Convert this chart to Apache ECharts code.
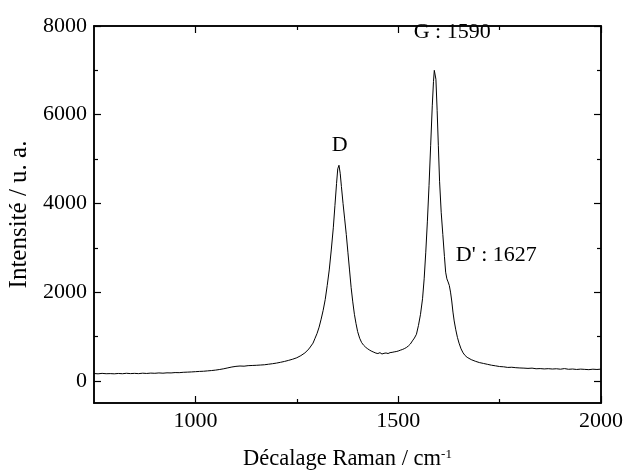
<!DOCTYPE html>
<html>
<head>
<meta charset="utf-8">
<script src="https://cdn.jsdelivr.net/npm/echarts@6/dist/echarts.min.js"></script>
<style>
html,body{margin:0;padding:0;background:#fff;}
#chart{width:628px;height:473px;}
</style>
</head>
<body>
<div id="chart"></div>
<script>
// Raman shift (cm-1) and intensity (a.u.)
var ramanShift = [750,760,770,780,790,800,810,820,830,840,850,860,870,880,890,900,910,920,930,940,950,960,970,980,990,
1000,1010,1020,1030,1040,1050,1060,1070,1080,1090,1100,1110,1120,1130,1140,1150,1160,1170,1180,1190,1200,1210,1220,1230,1240,
1250,1260,1270,1280,1290,1295,1300,1305,1310,1315,1320,1325,1330,1335,1340,1344,1348,1351,1354,1357,1360,1364,1368,1372,1376,
1380,1384,1388,1392,1396,1400,1405,1410,1415,1420,1425,1430,1435,1440,1445,1450,1455,1460,1465,1470,1475,1480,1485,1490,1495,
1500,1505,1510,1515,1520,1525,1530,1535,1540,1545,1550,1555,1560,1564,1568,1572,1576,1580,1584,1587,1589,1591,1593,1596,1599,
1602,1606,1610,1614,1617,1620,1623,1626,1629,1632,1635,1638,1642,1646,1650,1655,1660,1665,1670,1680,1690,1700,1710,1720,1730,
1740,1750,1760,1770,1780,1790,1800,1810,1820,1830,1840,1850,1860,1870,1880,1890,1900,1910,1920,1930,1940,1950,1960,1970,1980,1990,2000];
var intensity = [165,158,168,160,163,158,166,160,170,163,168,162,172,166,174,170,178,172,180,178,186,184,192,196,200,
206,212,216,224,232,242,256,272,292,312,326,334,330,342,346,350,356,362,374,386,400,418,438,462,488,
520,568,630,720,850,960,1070,1210,1390,1590,1830,2150,2500,2950,3450,3950,4450,4780,4860,4680,4380,4000,3650,3300,2900,
2500,2100,1780,1500,1290,1110,960,860,800,755,720,690,665,645,625,615,635,605,620,628,615,636,642,652,660,
672,690,705,725,750,785,830,900,965,1050,1250,1500,1850,2300,2900,3600,4400,5300,6200,6750,7000,7020,6800,6100,5300,
4500,3800,3300,2800,2450,2300,2230,2150,2000,1800,1550,1350,1150,980,850,720,630,570,530,478,442,412,392,372,352,
338,322,316,302,306,296,290,286,280,286,272,276,268,274,266,272,262,276,260,266,256,264,258,252,262,256,264];

var xMajorTicks = [1000,1500,2000];
var xMinorTicks = [1250,1750];
var yMajorTicks = [0,2000,4000,6000,8000];
var yMinorTicks = [1000,3000,5000,7000];

var annotLabels = ['D','G : 1590',"D' : 1627"];
var annotX = [1356,1633,1742];
var annotY = [5315,7860,2838];

var FONT = 'Liberation Serif';
var lineStyle = {color:'#000', width:1.5};

var seriesData = ramanShift.map(function(x,i){return [x,intensity[i]];});
var annotData = annotLabels.map(function(t,i){return [annotX[i],annotY[i],t];});

function plain(v){ return String(v); }

function xAxisDef(grid, pos, ticks, len, labels){
  return {
    type:'value', gridIndex:grid, position:pos, min:750, max:2000,
    axisLine:{show:true, onZero:false, lineStyle:lineStyle},
    axisTick:{show:true, inside:true, length:len, customValues:ticks, lineStyle:{color:'#000',width:1.2}},
    axisLabel:{show:labels, customValues:ticks, formatter:plain, color:'#000', fontFamily:FONT, fontSize:22, margin:7},
    splitLine:{show:false}
  };
}
function yAxisDef(grid, pos, ticks, len, labels){
  return {
    type:'value', gridIndex:grid, position:pos, min:-500, max:8000,
    axisLine:{show:true, onZero:false, lineStyle:lineStyle},
    axisTick:{show:true, inside:true, length:len, customValues:ticks, lineStyle:{color:'#000',width:1.2}},
    axisLabel:{show:labels, customValues:ticks, formatter:plain, color:'#000', fontFamily:FONT, fontSize:22, margin:7},
    splitLine:{show:false}
  };
}

var xa0 = xAxisDef(0,'bottom',xMajorTicks,7,true);
xa0.name = '{a|Décalage Raman / cm}{s|-1}';
xa0.nameLocation = 'middle';
xa0.nameGap = 45;
xa0.nameTextStyle = {color:'#000', fontFamily:FONT, fontSize:22.5,
  rich:{a:{color:'#000',fontFamily:FONT,fontSize:22.5}, s:{color:'#000',fontFamily:FONT,fontSize:13,verticalAlign:'top',padding:[0,0,10,0]}}};
var ya0 = yAxisDef(0,'left',yMajorTicks,7,true);
ya0.name = 'Intensité / u. a.';
ya0.nameLocation = 'middle';
ya0.nameGap = 62;
ya0.nameTextStyle = {color:'#000', fontFamily:FONT, fontSize:25};

var gridPos = {left:94, right:27, top:26, bottom:70, containLabel:false, outerBoundsMode:'none'};

var option = {
  animation:false,
  backgroundColor:'#fff',
  grid:[Object.assign({},gridPos), Object.assign({},gridPos)],
  xAxis:[xa0, xAxisDef(0,'top',xMajorTicks,7,false), xAxisDef(1,'bottom',xMinorTicks,4,false), xAxisDef(1,'top',xMinorTicks,4,false)],
  yAxis:[ya0, yAxisDef(0,'right',yMajorTicks,7,false), yAxisDef(1,'left',yMinorTicks,4,false), yAxisDef(1,'right',yMinorTicks,4,false)],
  series:[
    {type:'line', xAxisIndex:0, yAxisIndex:0, data:seriesData, showSymbol:false, symbol:'none',
     lineStyle:{color:'#000', width:1}, z:3},
    {type:'scatter', xAxisIndex:0, yAxisIndex:0, data:annotData, symbolSize:0,
     itemStyle:{color:'#000', opacity:1},
     label:{show:true, position:'inside', color:'#000', opacity:1, fontFamily:FONT, fontSize:22,
       formatter:function(p){return p.value[2];}}, z:4}
  ]
};
var chart = echarts.init(document.getElementById('chart'), null, {renderer:'canvas'});
chart.setOption(option);
</script>
</body>
</html>
